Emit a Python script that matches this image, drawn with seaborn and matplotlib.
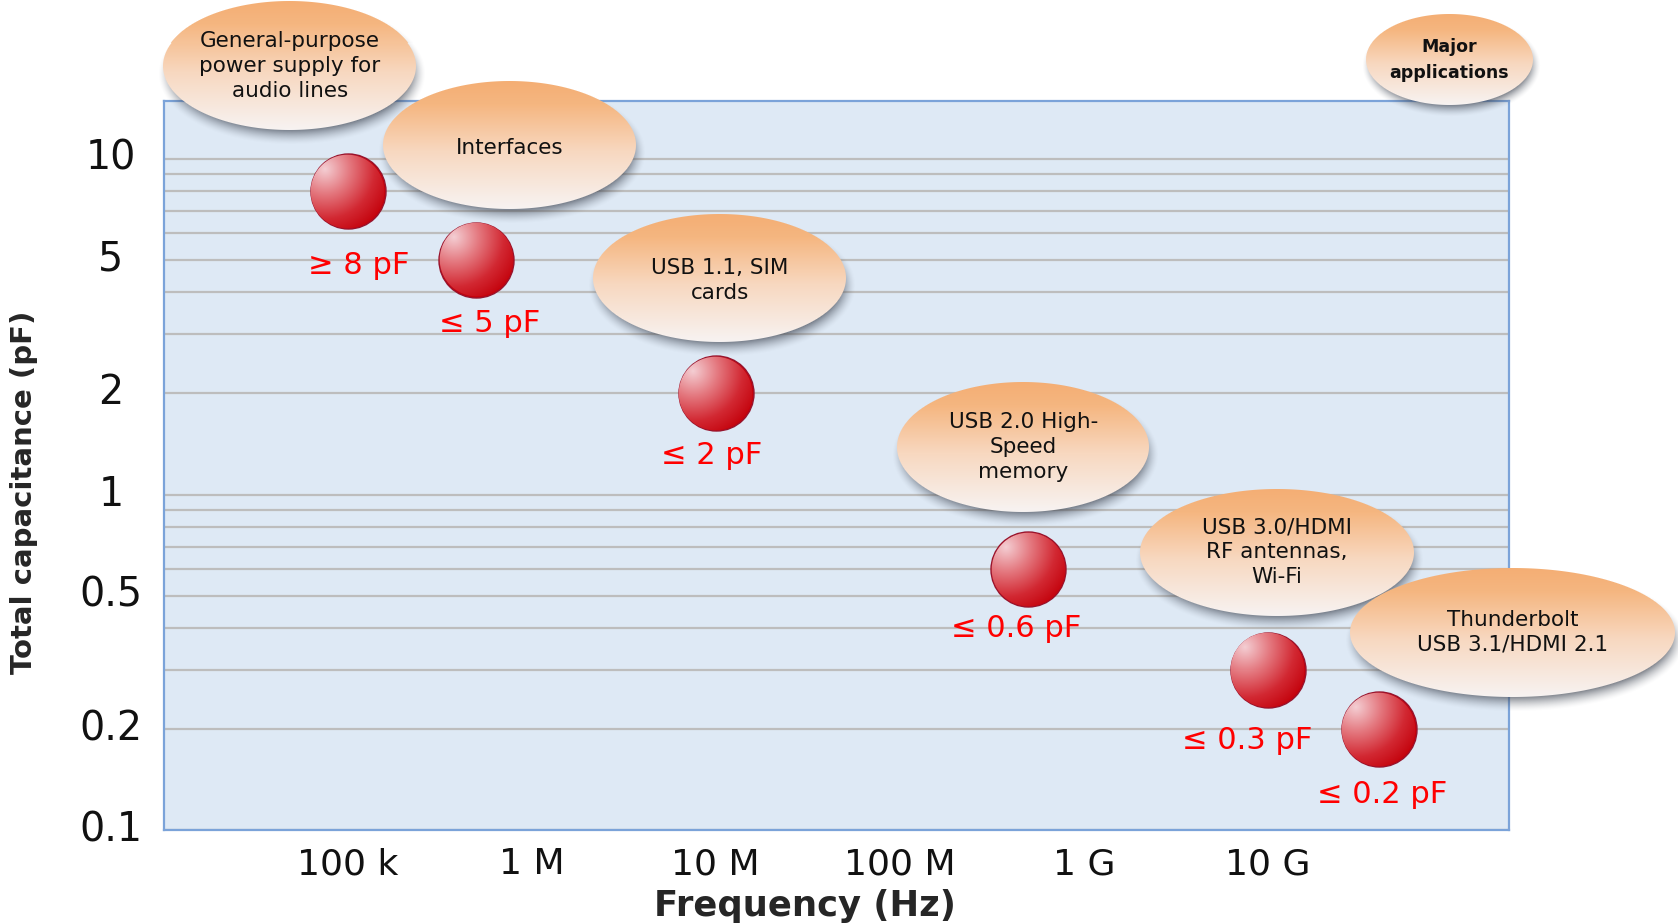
import numpy as np
import pandas as pd
import matplotlib
matplotlib.use("Agg")
import matplotlib.pyplot as plt
import seaborn as sns
from matplotlib.ticker import LogLocator, NullFormatter, NullLocator

# ---- data -------------------------------------------------------------
freq_hz = [1e5, 5e5, 1e7, 5e8, 1e10, 4e10]
capacitance_pf = [8, 5, 2, 0.6, 0.3, 0.2]
limit_labels = ["≥ 8 pF", "≤ 5 pF", "≤ 2 pF", "≤ 0.6 pF", "≤ 0.3 pF", "≤ 0.2 pF"]
applications = [
    "General-purpose\npower supply for\naudio lines",
    "Interfaces",
    "USB 1.1, SIM\ncards",
    "USB 2.0 High-\nSpeed\nmemory",
    "USB 3.0/HDMI\nRF antennas,\nWi-Fi",
    "Thunderbolt\nUSB 3.1/HDMI 2.1",
]
legend_title = "Major\napplications"
x_ticks = [1e5, 1e6, 1e7, 1e8, 1e9, 1e10]
x_tick_labels = ["100 k", "1 M", "10 M", "100 M", "1 G", "10 G"]
y_ticks = [0.1, 0.2, 0.5, 1, 2, 5, 10]
y_tick_labels = ["0.1", "0.2", "0.5", "1", "2", "5", "10"]

# ---- layout (pixels) --------------------------------------------------
W_PX, H_PX, DPI = 1678, 923, 100
label_offsets = [(11, -74), (13, -64), (-4, -62), (-12, -59), (-21, -70), (3, -65)]
bubble_offsets = [(-58, 125), (33, 115), (4, 115), (-5, 122), (9, 118), (134, 97)]
bubble_text_shift = [0, -3, -2, 0, 0, 0]
bubble_sizes = [(253, 128), (253, 128), (253, 128), (252, 130), (274, 127), (325, 129)]
legend_center = (1449, 863)
legend_size = (167, 91)
sphere_radius = 37.5

sns.set_style("white")
plt.rcParams["font.family"] = ["DejaVu Sans"]

fig = plt.figure(figsize=(W_PX / DPI, H_PX / DPI), dpi=DPI)
ax = fig.add_axes([163.7 / W_PX, 1 - 830.4 / H_PX, 1345.2 / W_PX, 729.8 / H_PX])
ax.set_xscale("log")
ax.set_yscale("log")

df = pd.DataFrame({"freq": freq_hz, "cap": capacitance_pf})
marker_pt = 2 * sphere_radius * 72 / DPI
sns.scatterplot(data=df, x="freq", y="cap", ax=ax, s=marker_pt ** 2,
                color="#C8000A", edgecolor="#96142D", linewidth=1.0,
                legend=False, zorder=3)

ax.set_xlim(1e4, 2.04e11)
ax.set_ylim(0.1, 14.9)
ax.set_facecolor("#DEE9F5")
for sp in ax.spines.values():
    sp.set_visible(True)
    sp.set_color("#7BA3D9")
    sp.set_linewidth(1.6)

ax.set_xticks(x_ticks, labels=x_tick_labels)
ax.xaxis.set_minor_locator(NullLocator())
ax.set_yticks(y_ticks, labels=y_tick_labels)
ax.yaxis.set_minor_locator(LogLocator(base=10, subs=np.arange(2, 10)))
ax.yaxis.set_minor_formatter(NullFormatter())
ax.tick_params(axis="both", which="both", length=0)
ax.tick_params(axis="x", labelsize=26, pad=12, colors="#111111")
ax.tick_params(axis="y", labelsize=28.5, pad=38, colors="#111111")
for lab in ax.get_yticklabels():
    lab.set_horizontalalignment("center")
    lab.set_verticalalignment("center")

ax.grid(False)
ax.yaxis.grid(True, which="both", color="#BDBDBD", linewidth=1.6)
ax.set_axisbelow(True)

ax.set_xlabel("Frequency (Hz)", fontsize=25.5, fontweight="bold")
ax.xaxis.set_label_coords(0.4766, -0.1040)
ax.xaxis.label.set_verticalalignment("center")
ax.set_ylabel("Total capacitance (pF)", fontsize=21, fontweight="bold")
ax.yaxis.set_label_coords(-0.1042, 0.4633)
ax.yaxis.label.set_verticalalignment("center")
ax.yaxis.label.set_horizontalalignment("center")

# ---- overlay in figure pixels for shaded spheres and bubbles ----------
ov = fig.add_axes([0, 0, 1, 1], zorder=5)
ov.set_xlim(0, W_PX)
ov.set_ylim(0, H_PX)
ov.axis("off")
ov.patch.set_alpha(0)


def ellipse_dist(X, Y, a, b):
    rho = np.sqrt((X / a) ** 2 + (Y / b) ** 2)
    g = np.sqrt((X / a ** 2) ** 2 + (Y / b ** 2) ** 2) / np.maximum(rho, 1e-9)
    return (rho - 1) / np.maximum(g, 1e-9)


def ramp(t, stops, colors):
    colors = np.asarray(colors, float) / 255.0
    return np.stack([np.interp(t, stops, colors[:, k]) for k in range(3)], axis=-1)


def bubble_image(w, h, margin=24, shadow=(2.5, 7.5), blur=7.5, strength=0.65):
    Wc, Hc = int(np.ceil(w + 2 * margin)), int(np.ceil(h + 2 * margin))
    xs = np.arange(Wc) + 0.5 - Wc / 2
    ys = np.arange(Hc) + 0.5 - Hc / 2  # downward
    X, Y = np.meshgrid(xs, ys)
    a, b = w / 2, h / 2
    d = ellipse_dist(X, Y, a, b)
    af = np.clip(0.5 - d, 0, 1)
    t = np.clip((Y + b) / (2 * b), 0, 1)
    rgb_f = ramp(t, [0, 0.18, 0.55, 1.0],
                 [(244, 174, 116), (245, 182, 128), (248, 216, 192), (247, 243, 242)])
    ds = ellipse_dist(X - shadow[0], Y - shadow[1], a, b)
    a_s = strength * np.clip((blur - ds) / (2 * blur), 0, 1) ** 1.6
    rgb_s = np.array([70, 76, 88]) / 255.0
    a_out = af + a_s * (1 - af)
    rgb = (rgb_f * af[..., None] + rgb_s * (a_s * (1 - af))[..., None]) / np.maximum(a_out, 1e-9)[..., None]
    return np.dstack([rgb, a_out]), Wc, Hc


def sphere_image(r):
    n = int(np.ceil(2 * r + 4))
    c = np.arange(n) + 0.5 - n / 2
    X, Y = np.meshgrid(c, c)  # Y downward
    d = np.sqrt(X ** 2 + Y ** 2) - (r - 0.7)
    alpha = np.clip(0.5 - d, 0, 1)
    hx, hy = -0.6 * r, -0.6 * r
    t = np.clip(np.sqrt((X - hx) ** 2 + (Y - hy) ** 2) / (1.9 * r), 0, 1)
    rgb = ramp(t, [0, 0.35, 0.7, 1.0],
               [(244, 206, 211), (228, 120, 127), (210, 40, 50), (195, 0, 10)])
    return np.dstack([rgb, alpha]), n


pts = ax.transData.transform(np.column_stack([freq_hz, capacitance_pf]))

sph, n = sphere_image(sphere_radius)
for (px, py) in pts:
    ov.imshow(sph, extent=(px - n / 2, px + n / 2, py - n / 2, py + n / 2),
              origin="upper", interpolation="nearest", aspect="auto", zorder=2)

for (px, py), lab, (dx, dy) in zip(pts, limit_labels, label_offsets):
    ov.text(px + dx, py + dy, lab, color="#FF0000", fontsize=22,
            ha="center", va="center", zorder=3)

for i, ((px, py), txt, (dx, dy), (bw, bh), sh) in enumerate(
        zip(pts, applications, bubble_offsets, bubble_sizes, bubble_text_shift)):
    img, Wc, Hc = bubble_image(bw, bh)
    cx, cy = px + dx, py + dy
    ov.imshow(img, extent=(cx - Wc / 2, cx + Wc / 2, cy - Hc / 2, cy + Hc / 2),
              origin="upper", interpolation="nearest", aspect="auto", zorder=10 + 2 * i)
    ov.text(cx, cy + sh, txt, fontsize=15.5, color="#111111", ha="center", va="center",
            linespacing=1.32, zorder=11 + 2 * i)

img, Wc, Hc = bubble_image(*legend_size, margin=20, shadow=(2, 6), blur=6)
cx, cy = legend_center
ov.imshow(img, extent=(cx - Wc / 2, cx + Wc / 2, cy - Hc / 2, cy + Hc / 2),
          origin="upper", interpolation="nearest", aspect="auto", zorder=30)
ov.text(cx, cy, legend_title, fontsize=12.5, fontweight="bold", color="#111111",
        ha="center", va="center", linespacing=1.6, zorder=31)

ov.set_xlim(0, W_PX)
ov.set_ylim(0, H_PX)

fig.savefig("out.png", dpi=DPI)
